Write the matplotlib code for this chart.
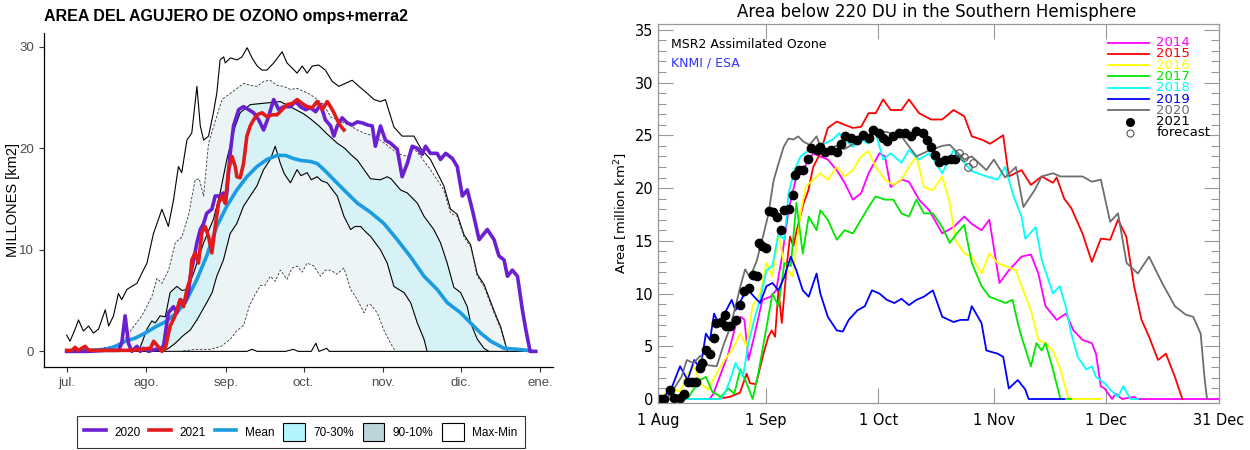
import numpy as np
import matplotlib
matplotlib.use("Agg")
import matplotlib.pyplot as plt
from matplotlib.lines import Line2D
from matplotlib.patches import Patch

# ---------------- left chart: days since 1 Jul ----------------
left_ticks = [0, 31, 62, 92, 123, 153, 184]
left_ticklabels = ["jul.", "ago.", "sep.", "oct.", "nov.", "dic.", "ene."]

max_d = [0, 1.3, 3.3, 4.6, 6.5, 8.5, 10.4, 12.4, 15, 16.3, 18.2, 20.1, 21.4, 23.4, 25.3, 27.3, 29.2, 31.2, 33.7, 35.1,
         37, 39.5, 41.5, 43.4, 44.7, 46.7, 48.6, 50.6, 51.9, 53.2, 55.1, 57, 58.3, 59.6, 61, 61.6, 63.6, 66.2, 68.1, 70.1,
         72, 74, 75.9, 77.8, 80.4, 83.7, 85.6, 87.6, 89.5, 91.5, 93.4, 95.4, 97.9, 100.5, 103.1, 105.7, 108.3, 110.9, 113.5, 116.8,
         119.4, 121.9, 123.8, 127.1, 130.3, 134.9, 137.5, 141.3, 146.5, 149.1, 151.7, 154.3, 156.9, 159.5, 162.1, 166, 168.6, 171.2]
max_v = [1.6, 1.0, 2.2, 3.1, 2.0, 2.5, 1.8, 2.2, 4.1, 2.5, 3.5, 5.7, 5.1, 6.1, 6.4, 6.7, 7.7, 8.7, 11.6, 12.6,
         14.0, 12.3, 14.9, 18.2, 17.6, 20.8, 21.5, 26.1, 22.2, 20.8, 21.2, 23.5, 25.4, 28.7, 29.0, 28.4, 28.9, 28.7, 29.0, 29.9,
         28.9, 28.1, 27.7, 27.7, 28.4, 29.5, 28.4, 27.9, 27.4, 28.1, 27.4, 28.1, 28.2, 27.7, 26.6, 26.1, 26.4, 26.7, 26.1, 25.4,
         24.8, 24.6, 24.8, 22.1, 21.2, 21.2, 20.0, 18.9, 16.3, 14.0, 13.5, 11.5, 10.5, 7.6, 6.6, 4.0, 2.4, 0]

p90_d = [0, 10, 15, 20, 22, 25.3, 29.2, 33.1, 35.1, 37, 39.6, 42.2, 44.8, 47.4, 49.9, 51.5, 53.2, 55.1, 57.5, 60.3,
         63.5, 66.2, 68.8, 71.4, 74, 76.6, 79.1, 81.7, 84.3, 86.9, 89.5, 92.1, 94.7, 97.3, 99.9, 102.5, 105.1, 107.7, 110.3, 112.9,
         115.5, 118.1, 120.7, 124, 128.4, 132.3, 134.9, 137.5, 141.3, 143.9, 146.5, 149.1, 151.7, 154.3, 156.9, 159.5, 162.1, 166, 168.6, 171.2]
p90_v = [0.1, 0.1, 0.4, 0.5, 1.0, 2.2, 3.5, 5.4, 7.2, 6.7, 8.0, 10.7, 11.3, 13.5, 16.9, 17.0, 15.3, 20.5, 22.5, 24.8,
         25.4, 25.9, 26.4, 26.2, 26.1, 26.6, 26.7, 26.2, 26.1, 25.8, 25.9, 25.6, 25.3, 24.8, 24.3, 23.1, 22.8, 22.5, 22.2, 21.8,
         21.5, 21.3, 21.0, 20.4, 19.5, 19.2, 20.0, 19.2, 17.9, 16.9, 15.9, 13.6, 13.3, 11.3, 10.3, 7.4, 6.4, 3.8, 2.2, 0]

p70_d = [28, 31.2, 33.1, 34.4, 36.3, 38.3, 40.2, 42.8, 44.8, 46.7, 49.3, 53.2, 57, 59.6, 62.2, 65.5, 67.4, 71.3, 75.2, 79,
         83, 86, 89, 92, 94.7, 98, 101.2, 105.1, 108, 110.3, 113, 115.5, 118, 121.9, 124.5, 126, 129.7, 132.3, 136.2, 138.8,
         142.6, 145.2, 147.8, 150.4, 153, 155.6, 156.9, 159.5, 162.1, 164]
p70_v = [0, 2.2, 3.0, 2.8, 3.5, 3.4, 5.8, 6.4, 6.0, 6.1, 7.7, 10.7, 13.0, 15.6, 18.9, 22.2, 23.5, 24.3, 24.4, 24.5,
         24.6, 24.2, 23.8, 23.4, 22.9, 22.2, 21.4, 20.5, 20.0, 19.4, 18.8, 17.9, 17.0, 16.9, 17.2, 17.0, 15.9, 15.6, 14.6, 13.3,
         12.0, 10.7, 8.7, 6.3, 5.8, 4.4, 2.8, 1.2, 0.3, 0]

p30_d = [37, 39.6, 42.2, 45, 48, 50.6, 54.4, 56.5, 58.3, 60.9, 63.5, 66.1, 68.7, 71.3, 73.9, 76.5, 79.1, 81, 83, 84.5,
         86.9, 89.5, 91, 93.4, 95, 97.3, 99, 101.2, 103, 105.1, 107.7, 110.3, 112, 114.2, 116, 118.1, 121.9, 124.5, 127.1, 129,
         131, 133.6, 136.2, 138.8, 140]
p30_v = [0, 0.3, 0.8, 1.5, 2.1, 3.1, 4.8, 5.8, 7.4, 9.0, 11.6, 12.6, 14.3, 15.3, 16.3, 17.9, 18.9, 20.2, 18.5, 17.5,
         16.6, 17.9, 17.3, 17.6, 16.9, 17.2, 16.8, 16.6, 16.0, 15.3, 13.3, 12.0, 12.3, 12.3, 11.8, 11.3, 10.0, 8.7, 6.4, 6.1,
         5.8, 4.8, 2.8, 1.2, 0]

p10_d = [0, 44, 50, 55.8, 60, 63.6, 66, 68.8, 71, 73, 75.3, 77, 79.1, 81, 83, 85.6, 87.5, 89.5, 91.5, 93.4,
         96, 98.6, 100.5, 102.5, 105, 107.7, 110.3, 112.9, 115.5, 117, 118.1, 120.6, 123.2, 125.8, 127.7]
p10_v = [0, 0, 0.2, 0.2, 0.5, 1.2, 2.0, 2.6, 4.5, 5.5, 6.5, 6.5, 7.4, 6.9, 8.0, 7.1, 8.2, 8.4, 7.8, 8.7,
         8.4, 7.4, 8.0, 8.0, 7.6, 8.2, 6.1, 5.1, 3.8, 4.6, 4.6, 3.8, 2.1, 0.8, 0]

min_d = [0, 70, 72, 74, 85, 88, 90, 95, 96.8, 98, 101, 102, 182]
min_v = [0, 0, 0.2, 0, 0, 0.2, 0, 0, 0.8, 0, 0.3, 0, 0]

mean_d = [0, 8.5, 15, 18.9, 22.7, 26.6, 30.5, 34.4, 38.3, 42.8, 46.7, 50.6, 54.4, 58.3, 62.2, 66.1, 70, 73.9, 77.8, 81.7,
          85, 88, 91, 94.7, 97.3, 99.9, 103.8, 107.7, 112.9, 118, 123.2, 128.4, 133.6, 138.8, 143.9, 147.8, 153, 156.9, 160.8, 164.7,
          169.9, 175.1, 179, 181]
mean_v = [0, 0.1, 0.2, 0.5, 1.0, 1.3, 1.8, 2.4, 2.9, 3.8, 5.1, 7.1, 9.4, 12.3, 14.3, 15.9, 17.2, 18.2, 18.9, 19.3,
          19.3, 19.0, 18.8, 18.7, 18.5, 17.9, 16.9, 15.9, 14.6, 13.7, 12.6, 11.0, 9.3, 7.4, 6.1, 4.8, 3.8, 2.8, 1.8, 1.0,
          0.3, 0.2, 0.1, 0]

y21_d = [0, 2, 3.3, 4.5, 7.2, 8.5, 24, 29.2, 31.8, 32.4, 33.8, 35.1, 37, 38.5, 40.2, 42.1, 44.1, 45.4, 46.7, 48,
         48.6, 49.9, 51.2, 52.5, 53.8, 55.1, 56.4, 57.7, 59, 60.3, 61.6, 62.9, 64.2, 65.5, 66.1, 67.4, 68.7, 70, 71.3, 72.6,
         74, 75.9, 77.8, 79.8, 81.7, 83.7, 85.6, 87.6, 89.5, 91.5, 93.4, 95.4, 97.3, 99.3, 101.2, 102.5, 103.8, 105.1, 106.4, 107.7]
y21_v = [0.1, 0.1, 0.4, 0.1, 0.5, 0.1, 0.1, 0.2, 0.3, 0.2, 1.0, 0.6, 0, 0.5, 2.5, 3.5, 5.1, 4.4, 6.1, 7.1,
         9.0, 9.7, 8.7, 11.7, 12.3, 11.3, 9.7, 12.3, 14.6, 15.3, 14.6, 17.9, 19.2, 18.2, 17.2, 17.1, 18.5, 21.2, 22.2, 22.8,
         23.3, 23.5, 23.1, 23.3, 23.3, 23.8, 24.3, 24.4, 24.8, 24.4, 24.1, 24.0, 24.6, 23.8, 24.6, 24.1, 23.5, 22.8, 22.2, 21.8]

y20_d = [0, 8.5, 15, 20.1, 21.4, 22.7, 24, 25.3, 27.3, 28.6, 29.9, 31.8, 34.4, 36, 37.6, 39.5, 41.5, 42.8, 44.1, 46,
         47.3, 48, 49.3, 50.6, 51.9, 53.2, 54.4, 56.4, 57.7, 59.6, 60.9, 61.6, 62.2, 63.5, 64.8, 66.8, 68.7, 70.7, 72.6, 74.6,
         76.5, 78.4, 80.4, 82.4, 84.3, 86.9, 88.9, 90.8, 92.8, 94.7, 96.7, 98.6, 100.5, 102.5, 103.8, 105.1, 107, 109, 110.9, 112.9,
         114.8, 116.8, 118.7, 119.9, 121.9, 123.8, 125.8, 128.4, 130.3, 132.3, 134.2, 136.2, 138.1, 139.4, 141.3, 143.9, 145.2, 147.2, 149.8, 151.7,
         153.7, 155.6, 157.6, 160.2, 163.4, 166, 167.9, 169.9, 171.2, 173.1, 175.1, 177, 178.3, 180, 182.2]
y20_v = [0, 0, 0.1, 0.1, 0.8, 3.5, 0.8, 0, 0.5, 0, 0.3, 0, 0.2, 0.2, 0.5, 3.8, 4.4, 3.8, 5.1, 4.8,
         5.8, 7.4, 9.0, 10.7, 12.0, 12.6, 13.6, 14.0, 15.3, 15.3, 15.6, 14.6, 15.6, 19.5, 22.2, 23.8, 24.1, 23.8, 23.5, 22.8,
         21.8, 23.1, 24.8, 23.8, 24.1, 24.1, 24.6, 24.1, 23.8, 24.0, 23.6, 24.3, 22.8, 22.2, 21.2, 22.2, 23.0, 22.5, 22.3, 22.6,
         22.5, 22.3, 22.2, 20.2, 22.2, 20.8, 20.5, 19.9, 17.2, 18.5, 20.2, 20.0, 19.4, 20.2, 19.5, 19.5, 18.9, 19.5, 19.0, 18.2,
         15.3, 15.9, 13.9, 11.0, 12.0, 11.0, 9.4, 9.0, 7.4, 8.0, 7.4, 4.1, 2.2, 0, 0]

# ---------------- right chart: days since 1 Aug ----------------
right_ticks = [2.1, 31, 61, 92, 122, 152]
right_ticklabels = ["1 Aug", "1 Sep", "1 Oct", "1 Nov", "1 Dec", "31 Dec"]

m14_d = [2.1, 15.9, 16.9, 18.9, 20.9, 22.8, 24.3, 25.2, 26.3, 27.8, 30.0, 32.2, 33.7, 35.4, 37.0, 39.1, 41.3, 43.6, 45.5, 47.5,
         49.9, 52.0, 54.2, 56.4, 58.4, 61.3, 62.8, 64.3, 67.2, 69.2, 71.9, 74.6, 78.1, 81.1, 84.0, 86.0, 88.6, 90.7, 93.4, 95.9,
         99.3, 101.8, 103.8, 105.7, 108.7, 111.2, 113.2, 115.6, 118.1, 119.2, 120.5, 121.5, 123.5, 124.5, 126.2, 129.4, 130.4, 152.1]
m14_v = [0, 0, 0.5, 2.4, 4.3, 6.9, 7.8, 7.5, 3.7, 5.9, 9.4, 9.7, 10.3, 13.8, 17.9, 21.1, 22.0, 23.3, 23.0, 22.7,
         21.7, 20.5, 18.9, 19.5, 21.4, 23.3, 23.0, 20.1, 20.8, 20.6, 18.9, 17.9, 15.7, 16.3, 17.3, 16.6, 16.0, 17.0, 11.0, 12.2,
         13.5, 13.7, 11.9, 8.8, 7.5, 8.1, 6.5, 5.6, 5.3, 4.3, 1.2, 1.0, 0, 0.5, 0, 0.2, 0, 0]

r15_d = [2.1, 17.8, 21.3, 24.0, 25.8, 26.7, 28.3, 30.3, 31.6, 32.5, 33.4, 34.3, 35.2, 36.6, 37.4, 38.3, 39.2, 41.0, 42.3, 43.6,
         45.5, 47.5, 49.9, 52.0, 54.2, 56.4, 58.4, 60.3, 62.3, 64.3, 67.2, 69.2, 71.9, 75.1, 78.1, 81.1, 84.0, 86.0, 88.6, 90.9,
         94.4, 95.9, 99.3, 101.8, 104.7, 107.7, 108.7, 110.7, 112.6, 115.6, 118.1, 120.5, 123.0, 125.1, 127.3, 129.4, 131.4, 133.4, 135.8, 137.9,
         140.3, 142.3]
r15_v = [0, 0, 0.2, 0.6, 2.4, 1.5, 1.4, 4.3, 5.9, 6.5, 5.9, 10.3, 7.2, 12.9, 15.4, 14.5, 16.0, 18.5, 19.8, 22.0,
         23.3, 25.7, 26.3, 26.0, 25.7, 25.8, 27.1, 27.1, 28.4, 27.4, 27.4, 28.4, 27.1, 26.5, 26.5, 27.4, 26.8, 24.9, 24.6, 24.2,
         25.0, 21.1, 21.7, 20.3, 21.1, 20.5, 21.0, 19.0, 18.1, 15.7, 13.0, 15.2, 15.1, 17.0, 15.4, 10.7, 7.5, 5.9, 3.7, 4.3,
         2.1, 0]

y16_d = [2.1, 3.7, 5.9, 8.0, 10.0, 11.8, 13.4, 15.5, 17.7, 19.9, 21.8, 24.1, 25.8, 27.4, 29.4, 31.1, 32.7, 34.3, 35.9, 38.1,
         40.2, 41.6, 43.6, 45.5, 47.5, 49.9, 52.0, 54.2, 56.4, 58.4, 60.3, 62.8, 65.0, 67.2, 69.2, 71.2, 73.2, 75.6, 78.1, 80.1,
         81.6, 84.0, 86.0, 88.6, 90.7, 92.9, 94.9, 97.8, 99.3, 101.8, 103.8, 105.7, 107.7, 109.7, 111.7, 112.6, 120.5]
y16_v = [0, 0.4, 1.2, 0.6, 2.4, 3.1, 1.5, 0.9, 2.4, 3.7, 4.6, 6.2, 5.0, 8.8, 10.0, 12.9, 11.6, 15.7, 12.6, 11.6,
         17.6, 20.1, 20.8, 21.4, 20.8, 22.0, 21.1, 21.7, 23.0, 23.5, 22.0, 20.8, 20.3, 20.8, 22.0, 23.0, 20.1, 19.8, 21.1, 18.6,
         15.1, 13.8, 13.5, 11.9, 13.8, 12.9, 12.6, 12.2, 10.7, 8.4, 5.6, 5.3, 4.6, 2.8, 0.2, 0, 0]

g17_d = [2.1, 10.0, 11.0, 13.4, 14.9, 16.6, 18.9, 20.9, 22.5, 24.1, 25.8, 27.4, 28.9, 30.5, 32.7, 34.3, 35.9, 37.6, 39.1, 40.8,
         42.4, 44.5, 45.5, 47.5, 49.9, 52.0, 54.2, 56.4, 58.4, 60.3, 62.8, 65.0, 67.2, 69.2, 71.2, 73.2, 75.6, 78.1, 80.1, 82.0,
         84.0, 86.0, 88.6, 90.7, 92.9, 94.9, 96.9, 98.3, 99.3, 101.8, 103.3, 104.7, 105.7, 107.7, 109.7, 112.6]
g17_v = [0, 0, 0.6, 1.8, 2.1, 0.7, 0.2, 1.0, 0.5, 2.8, 1.5, 0, 2.4, 5.6, 10.0, 8.8, 12.9, 12.6, 18.6, 13.8,
         17.3, 16.0, 17.9, 17.0, 15.1, 16.0, 15.7, 17.0, 18.2, 19.2, 18.9, 18.9, 17.6, 17.3, 18.9, 17.6, 17.6, 16.3, 14.8, 15.7,
         16.5, 12.9, 10.7, 9.7, 9.4, 9.1, 9.4, 7.2, 5.9, 3.1, 5.3, 4.6, 5.3, 2.8, 0, 0]

c18_d = [2.1, 18.9, 19.9, 21.4, 22.8, 24.8, 26.3, 27.8, 29.4, 31.1, 32.7, 34.3, 35.9, 37.0, 38.6, 40.2, 42.4, 44.5, 46.5, 48.8,
         50.5, 52.0, 54.2, 56.4, 58.4, 60.1, 62.3, 64.3, 67.2, 69.2, 71.9, 74.6, 78.1, 81.1, 84.0, 86.0, 89.9, 92.9, 94.9, 97.2,
         99.3, 100.3, 103.1, 104.7, 106.2, 107.7, 109.5, 111.1, 112.6, 114.3, 116.6, 118.1, 119.2, 121.5, 123.0, 125.1, 126.5, 128.4, 130.4]
c18_v = [0, 0, 0.5, 1.8, 3.4, 2.1, 5.3, 7.5, 9.4, 12.2, 12.6, 15.7, 15.1, 19.5, 21.7, 23.0, 23.6, 23.9, 24.2, 24.6,
         25.2, 24.6, 23.9, 24.6, 24.2, 25.5, 22.7, 23.3, 22.4, 23.6, 22.7, 23.3, 21.4, 23.6, 22.4, 21.6, 21.1, 20.8, 22.0, 19.2,
         17.3, 15.2, 16.3, 13.2, 11.6, 10.0, 10.7, 8.8, 6.2, 4.0, 2.8, 3.1, 2.1, 1.5, 0.9, 0.2, 1.2, 0, 0]

b19_d = [2.1, 3.7, 5.9, 8.0, 10.0, 11.8, 13.4, 14.9, 16.0, 17.1, 18.2, 19.9, 21.8, 22.8, 24.8, 26.3, 27.8, 29.4, 31.1, 32.7,
         34.3, 35.9, 37.6, 39.1, 40.8, 42.4, 44.5, 45.5, 47.5, 49.9, 51.5, 53.1, 55.4, 57.4, 59.3, 61.3, 63.3, 65.3, 67.2, 69.2,
         71.2, 73.2, 75.6, 78.1, 81.1, 83.0, 85.0, 86.0, 88.6, 89.9, 92.9, 94.4, 95.9, 98.3, 100.3, 101.2, 110.7]
b19_v = [0, 0.2, 1.2, 3.1, 1.8, 3.7, 2.8, 6.2, 5.6, 8.1, 7.2, 8.1, 9.4, 8.4, 9.7, 10.3, 9.7, 9.1, 10.7, 11.0,
         10.3, 11.6, 13.5, 12.2, 10.3, 9.7, 11.9, 10.0, 7.8, 6.5, 6.4, 7.5, 8.4, 8.8, 10.3, 10.0, 9.4, 9.1, 9.5, 8.9,
         9.4, 9.7, 10.3, 7.8, 7.3, 7.5, 7.5, 8.8, 7.2, 4.6, 4.3, 4.0, 1.0, 1.8, 0.9, 0, 0]

k20_d = [2.1, 5.1, 8.4, 9.8, 11.6, 13.4, 15.5, 17.8, 19.6, 21.3, 22.7, 24.0, 25.4, 26.7, 28.5, 30.3, 31.6, 33.0, 34.3, 35.7,
         37.0, 38.3, 39.6, 41.0, 42.6, 44.5, 46.5, 49.5, 52.0, 54.4, 57.4, 60.3, 63.3, 67.2, 71.2, 74.2, 78.1, 80.1, 84.0, 86.0,
         89.9, 91.9, 94.9, 97.8, 99.8, 102.8, 104.7, 107.7, 109.7, 115.6, 118.1, 120.5, 123.0, 125.1, 127.4, 130.4, 133.4, 136.9, 140.3, 143.2,
         145.2, 147.2, 148.2, 148.9]
k20_v = [0, 0.3, 2.1, 3.7, 3.4, 4.1, 3.2, 3.1, 5.1, 6.7, 8.6, 10.5, 12.3, 11.5, 13.1, 15.6, 17.5, 20.7, 22.3, 23.9,
         24.7, 24.6, 24.9, 24.4, 24.1, 24.9, 23.0, 24.0, 23.7, 24.2, 24.8, 25.4, 25.3, 24.9, 23.0, 23.5, 24.0, 24.1, 22.7, 23.0,
         21.7, 22.7, 21.0, 22.0, 18.2, 19.8, 21.1, 21.4, 21.1, 21.1, 20.6, 20.8, 16.8, 17.6, 12.9, 11.9, 13.5, 11.0, 8.8, 8.0,
         7.8, 6.2, 2.1, 0]

d21_d = [2.6, 3.7, 5.4, 6.4, 8.0, 9.0, 10.0, 11.2, 12.3, 13.4, 13.9, 14.9, 16.0, 17.1, 17.7, 18.9, 19.9, 20.4, 21.4, 23.0,
         24.1, 25.2, 26.3, 27.4, 28.5, 29.0, 30.0, 31.1, 31.8, 32.9, 34.0, 34.9, 35.9, 37.0, 38.1, 38.8, 39.9, 41.0, 42.1, 42.9,
         44.5, 45.5, 46.7, 48.3, 49.9, 51.0, 52.0, 53.6, 55.3, 56.9, 58.4, 59.7, 61.3, 62.3, 63.3, 65.0, 66.6, 68.2, 69.8, 71.2,
         73.0, 74.1, 75.1, 76.1, 77.3, 78.9, 80.5, 81.6]
d21_v = [0, 0, 0.9, 0.1, 0.1, 0.5, 1.6, 1.6, 1.6, 2.9, 3.4, 4.6, 4.3, 5.8, 7.2, 7.3, 8.0, 6.9, 6.9, 7.5,
         8.9, 10.2, 10.5, 11.8, 11.7, 14.8, 14.5, 14.3, 17.8, 17.7, 17.3, 16.0, 17.9, 18.0, 19.3, 21.2, 21.7, 21.7, 22.8, 23.8,
         23.6, 23.9, 23.4, 23.6, 23.4, 24.2, 24.9, 24.7, 24.6, 25.0, 24.7, 25.5, 25.2, 24.7, 24.5, 24.9, 25.2, 25.2, 24.9, 25.4,
         25.2, 24.6, 23.9, 23.1, 22.5, 22.7, 22.8, 22.8]

fc_d = [82.7, 83.8, 84.9, 86.3]
fc_v = [23.3, 22.9, 22.0, 22.4]

years = ["2014", "2015", "2016", "2017", "2018", "2019", "2020"]
year_colors = ["#ff00ff", "#ff0000", "#ffff00", "#00e600", "#00ffff", "#0000ff", "#6e6e6e"]
year_data = [(m14_d, m14_v), (r15_d, r15_v), (y16_d, y16_v), (g17_d, g17_v),
             (c18_d, c18_v), (b19_d, b19_v), (k20_d, k20_v)]

fig = plt.figure(figsize=(12.5, 4.5), dpi=100)

# ===================== left panel =====================
LF = "Liberation Sans"
axl = fig.add_axes([0.0352, 0.1844, 0.4072, 0.7422])
axl.fill(p90_d + p10_d[::-1], p90_v + p10_v[::-1], color="#c0d9dd", alpha=0.28, lw=0)
axl.fill(p70_d + p30_d[::-1], p70_v + p30_v[::-1], color="#aef0f8", alpha=0.35, lw=0)
axl.plot(max_d, max_v, color="black", lw=0.8)
axl.plot(min_d, min_v, color="black", lw=0.8)
axl.plot(p90_d, p90_v, color="#333333", lw=0.6, ls=(0, (3, 2)))
axl.plot(p10_d, p10_v, color="#333333", lw=0.6, ls=(0, (3, 2)))
axl.plot(p70_d, p70_v, color="black", lw=0.8)
axl.plot(p30_d, p30_v, color="black", lw=0.8)
axl.plot(mean_d, mean_v, color="#1c9ce0", lw=2.6, solid_capstyle="butt")
axl.plot(y20_d, y20_v, color="#6a1fd0", lw=2.6)
axl.plot(y21_d, y21_v, color="#e31a1c", lw=2.6)

axl.set_xlim(-8.8, 188.9)
axl.set_ylim(-1.54, 31.35)
axl.set_xticks(left_ticks)
axl.set_xticklabels(left_ticklabels, fontfamily=LF)
axl.set_yticks([0, 10, 20, 30])
axl.set_yticklabels(["0", "10", "20", "30"], fontfamily=LF)
axl.tick_params(length=3.5, width=0.8, color="#333333", labelcolor="#4d4d4d", labelsize=9.5)
for s in ["top", "right"]:
    axl.spines[s].set_visible(False)
for s in ["left", "bottom"]:
    axl.spines[s].set_linewidth(0.9)
axl.set_ylabel("MILLONES [km2]", fontsize=10.5, fontfamily=LF)
axl.yaxis.set_label_coords(-0.047, 0.5)
fig.text(44 / 1250, 1 - 17 / 450, "AREA DEL AGUJERO DE OZONO omps+merra2",
         fontsize=11.5, fontweight="bold", fontfamily=LF, ha="left", va="center")

handles = [Line2D([], [], color="#6a1fd0", lw=2.6),
           Line2D([], [], color="#e31a1c", lw=2.6),
           Line2D([], [], color="#1c9ce0", lw=2.6),
           Patch(facecolor="#b3f5fb", edgecolor="black", lw=0.8),
           Patch(facecolor="#bcd5da", edgecolor="black", lw=0.8),
           Patch(facecolor="white", edgecolor="black", lw=0.8)]
labels = ["2020", "2021", "Mean", "70-30%", "90-10%", "Max-Min"]
leg = fig.legend(handles, labels, loc="upper left", bbox_to_anchor=(77 / 1250, 1 - 416 / 450),
                 ncol=6, frameon=True, fancybox=False, edgecolor="black",
                 handlelength=1.85, handleheight=2.0, handletextpad=0.7, columnspacing=0.75,
                 borderpad=0.6, borderaxespad=0, prop={"family": LF, "size": 8.5})
leg.get_frame().set_linewidth(0.8)

# ===================== right panel =====================
axr = fig.add_axes([0.5264, 0.1044, 0.4488, 0.8422])
for (d, v), c in zip(year_data, year_colors):
    axr.plot(d, v, color=c, lw=1.3)
axr.plot(d21_d, d21_v, "o", color="black", ms=6, ls="none")
axr.plot(fc_d, fc_v, "o", mfc="none", mec="#555555", mew=0.8, ms=5.5, ls="none")

axr.set_xlim(2.1, 152.1)
axr.set_ylim(-0.38, 35.55)
axr.set_xticks(right_ticks)
axr.set_xticklabels(right_ticklabels)
axr.set_yticks(range(0, 36, 5))
axr.set_yticks(range(0, 36), minor=True)
axr.tick_params(which="both", direction="in", top=True, right=True, color="#999999", labelsize=10.5)
axr.tick_params(which="major", length=11, width=0.8)
axr.tick_params(which="minor", length=6, width=0.8)
axr.tick_params(axis="x", pad=7)
for s in axr.spines.values():
    s.set_color("#999999")
    s.set_linewidth(0.9)
axr.set_ylabel("Area [million km$^2$]", fontsize=9.5)
axr.yaxis.set_label_coords(-0.05, 0.5)
fig.text(937 / 1250, 1 - 12 / 450, "Area below 220 DU in the Southern Hemisphere",
         fontsize=12, ha="center", va="center")

axr.text(0.023, 0.945, "MSR2 Assimilated Ozone", transform=axr.transAxes, fontsize=9, va="center")
axr.text(0.023, 0.896, "KNMI / ESA", transform=axr.transAxes, fontsize=9, va="center", color="#3030ff")

row_y = 0.951
for lab, c in zip(years, year_colors):
    axr.plot([0.802, 0.875], [row_y, row_y], color=c, lw=1.3, transform=axr.transAxes)
    axr.text(0.888, row_y, lab, color=c, fontsize=9.5, va="center", transform=axr.transAxes)
    row_y -= 0.0298
axr.plot([0.841], [row_y], "o", color="black", ms=5.5, transform=axr.transAxes)
axr.text(0.888, row_y, "2021", color="black", fontsize=9.5, va="center", transform=axr.transAxes)
row_y -= 0.0298
axr.plot([0.841], [row_y], "o", mfc="none", mec="#555555", mew=0.8, ms=5, transform=axr.transAxes)
axr.text(0.888, row_y, "forecast", color="black", fontsize=9.5, va="center", transform=axr.transAxes)

fig.savefig("out.png", dpi=100)
